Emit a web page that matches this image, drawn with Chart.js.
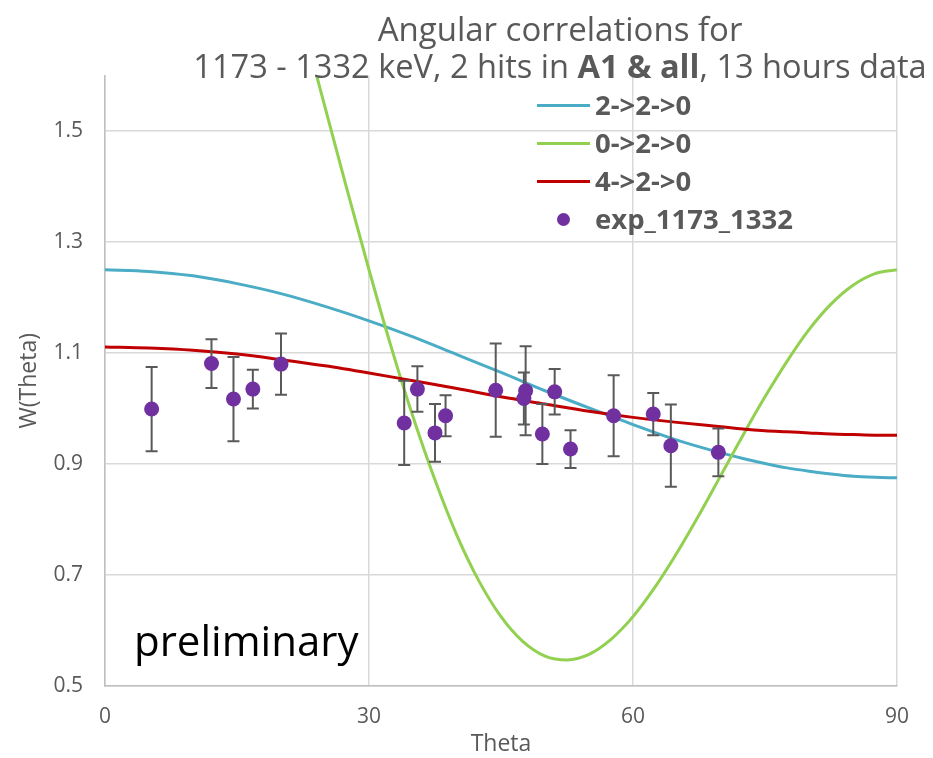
<!DOCTYPE html>
<html>
<head>
<meta charset="utf-8">
<script src="https://cdn.jsdelivr.net/npm/chart.js@4.4.0/dist/chart.umd.min.js"></script>
<style>
  body { margin: 0; background: #fff; font-family: "Open Sans", sans-serif; }
  #wrap { position: relative; width: 933px; height: 758px; }
  .title { position: absolute; left: 160px; width: 800px; text-align: center; color: #595959; font-size: 33px; line-height: 38px; white-space: nowrap; }
  .legend { position: absolute; left: 537px; top: 86px; color: #595959; font-weight: bold; font-size: 27.5px; }
  .legend div { height: 38px; line-height: 38px; display: flex; align-items: center; }
  .legend .ln { display: inline-block; width: 53px; height: 3px; margin-right: 5px; }
  .legend .dot { display: inline-block; width: 13px; height: 13px; border-radius: 50%; background: #7030A0; margin: 0 25px 0 20px; }
  .prelim { position: absolute; left: 134px; top: 612px; font-size: 42px; line-height: 56px; color: #000; }
</style>
</head>
<body>
<div id="wrap">
  <canvas id="chartW" width="933" height="758"></canvas>
  <div class="title" style="top:10px">Angular correlations for</div>
  <div class="title" style="top:47px; font-size:32.6px">1173 - 1332 keV, 2 hits in <b>A1 &amp; all</b>, 13 hours data</div>
  <div class="legend">
    <div><span class="ln" style="background:#4BACC6"></span>2-&gt;2-&gt;0</div>
    <div><span class="ln" style="background:#92D050"></span>0-&gt;2-&gt;0</div>
    <div><span class="ln" style="background:#C00000"></span>4-&gt;2-&gt;0</div>
    <div><span class="dot"></span>exp_1173_1332</div>
  </div>
  <div class="prelim">preliminary</div>
</div>
<script>
const thetaDeg = [0, 5, 10, 15, 20, 25, 30, 35, 40, 45, 50, 55, 60, 65, 70, 72.5, 75, 77.5, 80, 82.5, 85, 87.5, 90]
const w220 = [1.250, 1.247, 1.239, 1.225, 1.207, 1.184, 1.158, 1.129, 1.097, 1.065, 1.032, 1.001, 0.971, 0.943, 0.920, 0.910, 0.901, 0.893, 0.887, 0.882, 0.878, 0.876, 0.875]
const w420 = [1.111, 1.109, 1.105, 1.098, 1.088, 1.077, 1.064, 1.050, 1.036, 1.021, 1.008, 0.995, 0.984, 0.975, 0.967, 0.963, 0.960, 0.958, 0.956, 0.954, 0.953, 0.952, 0.952]

// 0->2->0 swings hard, so it was read on a finer grid
const thetaGreen = [0, 5, 10, 15, 20, 22.5, 25, 27.5, 30, 32.5, 35, 37.5, 40, 42.5, 45, 47.5, 50, 52.5, 55, 57.5, 60, 62.5, 65, 67.5, 70, 72.5, 75, 77.5, 80, 82.5, 85, 87.5, 90]
const w020 = [2.500, 2.453, 2.316, 2.104, 1.837, 1.692, 1.543, 1.395, 1.250, 1.112, 0.985, 0.871, 0.771, 0.689, 0.625, 0.580, 0.554, 0.547, 0.557, 0.584, 0.625, 0.678, 0.740, 0.808, 0.880, 0.952, 1.021, 1.085, 1.142, 1.188, 1.222, 1.243, 1.250]

// measured points
const expTheta = [5.3, 12.1, 14.6, 16.8, 20.0, 34.0, 35.5, 37.5, 38.7, 44.4, 47.8, 47.6, 49.7, 51.1, 52.9, 57.8, 62.3, 64.3, 69.7]
const expW = [0.999, 1.081, 1.017, 1.035, 1.080, 0.974, 1.035, 0.956, 0.987, 1.033, 1.032, 1.018, 0.954, 1.030, 0.927, 0.987, 0.990, 0.933, 0.921]
const expErr = [0.076, 0.044, 0.076, 0.035, 0.055, 0.076, 0.041, 0.052, 0.037, 0.084, 0.080, 0.047, 0.054, 0.041, 0.034, 0.073, 0.038, 0.074, 0.043]

const xTicks = [0, 30, 60, 90]
const yTicks = [0.5, 0.7, 0.9, 1.1, 1.3, 1.5]

const pts = (xs, ys) => xs.map((x, i) => ({ x: x, y: ys[i] }))

const curve = (label, xs, ys, color, order) => ({
  type: "line",
  label: label,
  data: pts(xs, ys),
  borderColor: color,
  borderWidth: 3,
  pointRadius: 0,
  cubicInterpolationMode: "monotone",
  order: order,
})

// error bars go under the dots but over the curves
const errorBars = {
  id: "errorBars",
  beforeDatasetDraw(chart, args) {
    if (args.index !== 3) return
    const { ctx, scales: { x, y } } = chart
    ctx.save()
    ctx.strokeStyle = "#595959"
    ctx.lineWidth = 2
    expTheta.forEach((t, i) => {
      const px = x.getPixelForValue(t)
      const top = y.getPixelForValue(expW[i] + expErr[i])
      const bot = y.getPixelForValue(expW[i] - expErr[i])
      ctx.beginPath()
      ctx.moveTo(px, top); ctx.lineTo(px, bot)
      ctx.moveTo(px - 6, top); ctx.lineTo(px + 6, top)
      ctx.moveTo(px - 6, bot); ctx.lineTo(px + 6, bot)
      ctx.stroke()
    })
    ctx.restore()
  },
}

const font = "'Open Sans', sans-serif"

new Chart(document.getElementById("chartW"), {
  type: "scatter",
  data: {
    datasets: [
      curve("2->2->0", thetaDeg, w220, "#4BACC6", 4),
      curve("0->2->0", thetaGreen, w020, "#92D050", 3),
      curve("4->2->0", thetaDeg, w420, "#C00000", 2),
      {
        label: "exp_1173_1332",
        data: pts(expTheta, expW),
        backgroundColor: "#7030A0",
        borderWidth: 0,
        pointRadius: 7.5,
        order: 1,
      },
    ],
  },
  options: {
    responsive: false,
    animation: false,
    devicePixelRatio: 1,
    layout: { padding: { top: 75.5, right: 36, left: 0, bottom: 0 } },
    plugins: { legend: { display: false }, title: { display: false }, tooltip: { enabled: false } },
    scales: {
      x: {
        type: "linear",
        min: 0,
        max: 90,
        afterBuildTicks: s => { s.ticks = xTicks.map(v => ({ value: v })) },
        afterFit: s => { s.height = 72 },
        ticks: { padding: 18, color: "#595959", font: { family: font, size: 21 }, callback: v => v },
        grid: { color: "#D9D9D9", lineWidth: 1.5, drawTicks: false },
        border: { color: "#BFBFBF", width: 1.5 },
        title: { display: true, text: "Theta", color: "#595959", font: { family: font, size: 23 }, padding: { bottom: 0 } },
      },
      y: {
        type: "linear",
        min: 0.5,
        max: 1.6,
        afterBuildTicks: s => { s.ticks = yTicks.map(v => ({ value: v })) },
        afterFit: s => { s.width = 105 },
        ticks: { padding: 22, color: "#595959", font: { family: font, size: 21 }, callback: v => v.toFixed(1) },
        grid: { color: "#D9D9D9", lineWidth: 1.5, drawTicks: false },
        border: { color: "#BFBFBF", width: 1.5 },
        title: { display: true, text: "W(Theta)", color: "#595959", font: { family: font, size: 23 }, padding: { top: 16 } },
      },
    },
  },
  plugins: [errorBars],
})
</script>
</body>
</html>
